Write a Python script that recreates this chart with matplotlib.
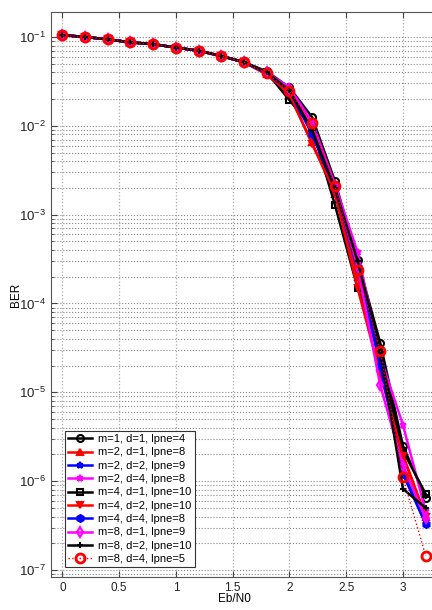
import math
import matplotlib
matplotlib.use("Agg")
import matplotlib.pyplot as plt
from matplotlib.ticker import FixedLocator, FuncFormatter, NullFormatter

plt.rcParams['font.family'] = ['Liberation Sans', 'DejaVu Sans']
plt.rcParams['mathtext.fontset'] = 'custom'
plt.rcParams['mathtext.rm'] = 'Liberation Sans'
plt.rcParams['mathtext.it'] = 'Liberation Sans'

ebn0 = [0.0, 0.2, 0.4, 0.6, 0.8, 1.0, 1.2, 1.4, 1.6, 1.8, 2.0, 2.2, 2.4, 2.6, 2.8, 3.0, 3.2]
base = [0.105, 0.100, 0.094, 0.087, 0.083, 0.076, 0.070, 0.061, 0.052]

labels = ["m=1, d=1, lpne=4", "m=2, d=1, lpne=8", "m=2, d=2, lpne=9", "m=2, d=4, lpne=8",
          "m=4, d=1, lpne=10", "m=4, d=2, lpne=10", "m=4, d=4, lpne=8", "m=8, d=1, lpne=9",
          "m=8, d=2, lpne=10", "m=8, d=4, lpne=5"]

ber_m1_d1 = base + [0.041, 0.027, 0.0125, 0.0024, 3.1e-4, 3.6e-5, 2.5e-6, 6.5e-7]
ber_m2_d1 = base + [0.038, 0.022, 0.0065, 0.0017, 2.0e-4, 2.2e-5, 2.0e-6, 4.0e-7]
ber_m2_d2 = base + [0.039, 0.024, 0.0085, 0.0019, 2.4e-4, 2.4e-5, 1.3e-6, 3.3e-7]
ber_m2_d4 = base + [0.040, 0.027, 0.0110, 0.0022, 3.8e-4, 2.5e-5, 4.3e-6, 4.6e-7]
ber_m4_d1 = base + [0.040, 0.0195, 0.0095, 0.0013, 1.5e-4, 2.6e-5, 2.2e-6, 7.2e-7]
ber_m4_d2 = base + [0.038, 0.023, 0.0062, 0.0018, 1.5e-4, 1.6e-5, 1.9e-6, 4.0e-7]
ber_m4_d4 = base + [0.039, 0.025, 0.0080, 0.0020, 2.6e-4, 2.0e-5, 1.2e-6, 3.3e-7]
ber_m8_d1 = base + [0.040, 0.026, 0.0100, 0.0021, 2.6e-4, 1.2e-5, 1.5e-6, 3.8e-7]
ber_m8_d2 = base + [0.040, 0.025, 0.0090, 0.0020, 3.0e-4, 3.0e-5, 8.2e-7, 5.0e-7]
ber_m8_d4 = base + [0.039, 0.0247, 0.0108, 0.0021, 2.4e-4, 2.95e-5, 1.1e-6, 1.45e-7]

series = [ber_m1_d1, ber_m2_d1, ber_m2_d2, ber_m2_d4, ber_m4_d1,
          ber_m4_d2, ber_m4_d4, ber_m8_d1, ber_m8_d2, ber_m8_d4]

styles = [
    dict(color='black', marker='o', ls='-', mfc='none'),
    dict(color='red', marker='^', ls='-', mfc='red'),
    dict(color='blue', marker='*', ls='-', mfc='blue'),
    dict(color='magenta', marker='*', ls='-', mfc='magenta'),
    dict(color='black', marker='s', ls='-', mfc='none'),
    dict(color='red', marker='v', ls='-', mfc='red'),
    dict(color='blue', marker='h', ls='-', mfc='blue'),
    dict(color='magenta', marker='d', ls='-', mfc='none'),
    dict(color='black', marker='+', ls='-', mfc='none'),
    dict(color='red', marker='o', ls=':', mfc='none'),
]

fig = plt.figure(figsize=(4.32, 6.10), dpi=100)
ax = fig.add_axes([51/432, 1 - 577/610, (437 - 51)/432, (577 - 12)/610])

for y, lab, st in zip(series, labels, styles):
    lw = 1.8
    ms = 5
    mew = 1.5
    if lab == labels[-1]:
        ms = 6.5
        mew = 2.0
        lw = 1.0
    ax.plot(ebn0, y, color=st['color'], marker=st['marker'], linestyle=st['ls'],
            markerfacecolor=st['mfc'], markeredgecolor=st['color'],
            linewidth=lw, markersize=ms, markeredgewidth=mew, label=lab)

ax.set_yscale('log')
ax.set_xlim(-0.1, 3.3)
ax.set_ylim(8.34e-8, 0.191)

xticks = [0, 0.5, 1, 1.5, 2, 2.5, 3]
xticklabels = ["0", "0.5", "1", "1.5", "2", "2.5", "3"]
ax.set_xticks(xticks)
ax.set_xticklabels(xticklabels)
yticks = [1e-7, 1e-6, 1e-5, 1e-4, 1e-3, 1e-2, 1e-1]
ax.yaxis.set_major_locator(FixedLocator(yticks))
minor = [m * 10.0 ** e for e in range(-8, -1) for m in range(2, 10)]
minor = [v for v in minor if 8.34e-8 <= v <= 0.191]
ax.yaxis.set_minor_locator(FixedLocator(minor))
ax.yaxis.set_minor_formatter(NullFormatter())
ax.yaxis.set_major_formatter(FuncFormatter(lambda v, p: r'$\mathregular{10^{%d}}$' % round(math.log10(v))))

ax.tick_params(axis='both', which='both', direction='in', top=True, right=True,
               colors='#444444', labelcolor='#222222')
ax.tick_params(axis='x', labelsize=8.5)
ax.tick_params(axis='y', labelsize=9.5)
ax.tick_params(which='major', length=4)
ax.tick_params(which='minor', length=2)
for s in ax.spines.values():
    s.set_color('#555555')
    s.set_linewidth(0.8)

ax.grid(True, which='major', axis='x', linestyle=':', color='#aaaaaa', linewidth=0.9)
ax.grid(True, which='major', axis='y', linestyle=':', color='#888888', linewidth=0.8)
ax.grid(True, which='minor', axis='y', linestyle=':', color='#888888', linewidth=0.8)
ax.set_axisbelow(True)

ax.set_xlabel('Eb/N0', fontsize=8.5)
ax.xaxis.set_label_coords(0.474, -0.028)
ax.set_ylabel('BER', fontsize=8.5)
ax.yaxis.set_label_coords(-0.075, 0.5)

leg = ax.legend(loc='lower left', bbox_to_anchor=(0.022, 0.007), fontsize=8,
                frameon=True, fancybox=False, edgecolor='#333333', framealpha=1,
                handlelength=2.1, borderpad=0.3, labelspacing=0.3, handletextpad=0.6)
leg.get_frame().set_linewidth(0.8)

fig.savefig('out.png', dpi=100)
